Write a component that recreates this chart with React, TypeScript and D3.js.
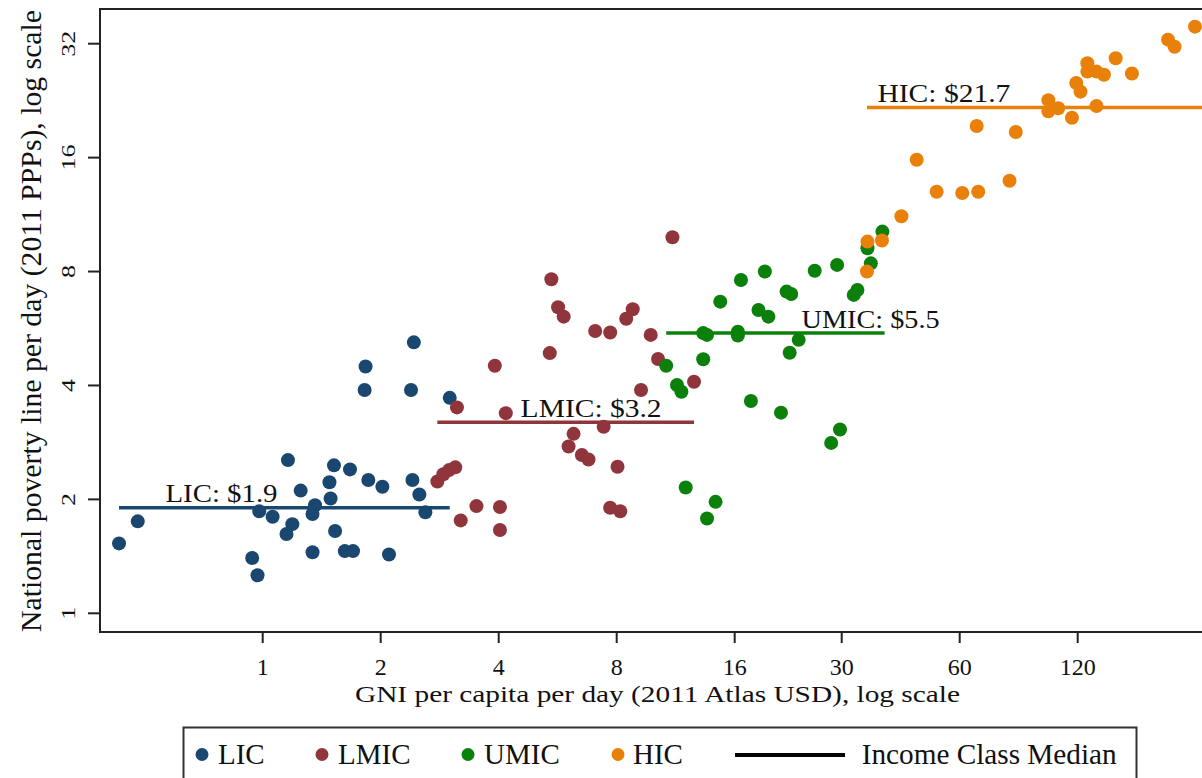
import React from "react";
import * as d3 from "d3";

// ---- data (GNI per capita per day, national poverty line per day) ----
const licPoints: [number, number][] = [
  [0.43, 1.53], [0.48, 1.75], [0.94, 1.40], [0.97, 1.26], [0.98, 1.86], [1.06, 1.80],
  [1.16, 2.54], [1.15, 1.62], [1.19, 1.72], [1.25, 2.11], [1.34, 1.45], [1.34, 1.83],
  [1.36, 1.93], [1.52, 2.46], [1.48, 2.22], [1.49, 2.01], [1.53, 1.65], [1.62, 1.46],
  [1.70, 1.46], [1.67, 2.40], [1.86, 2.25], [2.02, 2.16], [2.10, 1.43], [2.41, 2.25],
  [2.51, 2.06], [2.60, 1.85], [1.83, 4.49], [1.82, 3.89], [2.43, 5.20], [2.39, 3.89],
  [3.00, 3.71],
];
const lmicPoints: [number, number][] = [
  [11.1, 9.86], [5.45, 7.63], [5.67, 6.44], [5.86, 6.08], [8.79, 6.36], [8.46, 6.0],
  [7.05, 5.57], [7.70, 5.52], [9.77, 5.44], [5.40, 4.87], [10.2, 4.70], [3.91, 4.51],
  [12.6, 4.09], [9.23, 3.89], [3.13, 3.50], [4.17, 3.38], [7.41, 3.11], [6.21, 2.98],
  [6.03, 2.76], [6.52, 2.62], [6.78, 2.55], [8.04, 2.44], [2.79, 2.23], [2.89, 2.33],
  [2.99, 2.39], [3.10, 2.43], [3.51, 1.92], [4.03, 1.91], [3.20, 1.76], [4.03, 1.66],
  [7.70, 1.90], [8.17, 1.86],
];
const umicPoints: [number, number][] = [
  [38.1, 10.2], [34.9, 9.22], [35.6, 8.41], [32.9, 7.15], [32.2, 6.94], [29.2, 8.33],
  [25.6, 8.04], [19.1, 8.0], [16.6, 7.60], [14.7, 6.66], [21.7, 7.08], [22.3, 6.98],
  [18.4, 6.33], [19.5, 6.08], [13.3, 5.50], [13.6, 5.44], [16.3, 5.55], [16.3, 5.42],
  [23.3, 5.28], [22.1, 4.88], [10.7, 4.51], [13.3, 4.69], [11.4, 4.01], [11.7, 3.85],
  [17.6, 3.64], [21.0, 3.39], [29.7, 3.06], [28.2, 2.82], [12.0, 2.15], [14.3, 1.97],
  [13.6, 1.78],
];
const hicPoints: [number, number][] = [
  [34.9, 9.60], [38.0, 9.66], [34.8, 8.0], [42.6, 11.2], [46.6, 15.8], [52.4, 13.0],
  [60.9, 12.9], [66.9, 13.0], [80.4, 13.9], [66.3, 19.4], [83.4, 18.7], [101, 22.7],
  [101, 21.2], [107, 21.6], [116, 20.4], [134, 21.9], [119, 25.2], [122, 23.9],
  [127, 28.4], [127, 27.0], [134, 27.0], [140, 26.5], [150, 29.3], [165, 26.7],
  [204, 32.8], [212, 31.4], [239, 35.5],
];

const groupNames = ["LIC", "LMIC", "UMIC", "HIC"];
const groupColors = ["#1a476f", "#90353b", "#0b800b", "#e8800a"];
const groupPoints = [licPoints, lmicPoints, umicPoints, hicPoints];

const medianValues = [1.9, 3.2, 5.5, 21.7];
const medianStart = [0.43, 2.79, 10.7, 34.8];
const medianEnd = [3.0, 12.6, 38.6, 260];
const medianLabelAt = [0.565, 4.55, 23.7, 37.0];
const medianLabelWidth = [112, 141, 138, 133];

const xTicks = [1, 2, 4, 8, 16, 30, 60, 120];
const yTicks = [1, 2, 4, 8, 16, 32];

const xTitle = "GNI per capita per day (2011 Atlas USD), log scale";
const yTitle = "National poverty line per day (2011 PPPs), log scale";
const legendMedianLabel = "Income Class Median";

const FONT = "'Liberation Serif', 'Times New Roman', serif";

export default function App() {
  const W = 1202;
  const H = 778;
  const left = 100;
  const top = 9;
  const bottom = 632;
  const right = 1230;

  const x = d3.scaleLog().base(2).domain([1, 120]).range([262.7, 1077.7]);
  const y = d3.scaleLog().base(2).domain([1, 32]).range([613.3, 43.7]);

  const legendMarkerX = [202, 322, 468, 618];
  const legendTextX = [218, 338, 484, 633];

  return (
    <svg
      width={W}
      height={H}
      style={{ position: "absolute", left: 0, top: 0, background: "#fff" }}
      fontFamily={FONT}
    >
      <rect x={0} y={0} width={W} height={H} fill="#fff" />
      <defs>
        <clipPath id="plotclip">
          <rect x={left} y={top} width={right - left} height={bottom - top} />
        </clipPath>
      </defs>

      {/* plot frame */}
      <rect x={left} y={top} width={right - left} height={bottom - top} fill="none" stroke="#222" strokeWidth={2} />

      {/* y axis ticks + labels */}
      {yTicks.map((t) => (
        <g key={"y" + t}>
          <line x1={88} x2={left} y1={y(t)} y2={y(t)} stroke="#222" strokeWidth={2} />
          <text
            transform={`translate(74.5,${y(t)}) rotate(-90)`}
            textAnchor="middle"
            fontSize={18}
            textLength={String(t).length * 13}
            lengthAdjust="spacingAndGlyphs"
            fill="#111"
          >
            {t}
          </text>
        </g>
      ))}

      {/* x axis ticks + labels */}
      {xTicks.map((t) => (
        <g key={"x" + t}>
          <line x1={x(t)} x2={x(t)} y1={bottom} y2={643} stroke="#222" strokeWidth={2} />
          <text x={x(t)} y={675} textAnchor="middle" fontSize={24} fill="#111">
            {t}
          </text>
        </g>
      ))}

      {/* axis titles */}
      <text x={355} y={702} fontSize={24} textLength={605} lengthAdjust="spacingAndGlyphs" fill="#111">
        {xTitle}
      </text>
      <text
        transform={`translate(41,321) rotate(-90)`}
        textAnchor="middle"
        fontSize={29}
        textLength={622}
        lengthAdjust="spacingAndGlyphs"
        fill="#111"
      >
        {yTitle}
      </text>

      <g clipPath="url(#plotclip)">
        {/* points */}
        {groupPoints.map((pts, gi) =>
          pts.map((p, i) => (
            <circle key={gi + "-" + i} cx={x(p[0])} cy={y(p[1])} r={7} fill={groupColors[gi]} />
          ))
        )}
        {/* median lines */}
        {medianValues.map((m, i) => (
          <g key={"m" + i}>
            <line
              x1={x(medianStart[i])}
              x2={x(medianEnd[i])}
              y1={y(m)}
              y2={y(m)}
              stroke={groupColors[i]}
              strokeWidth={3.5}
            />
            <text
              x={x(medianLabelAt[i])}
              y={y(m) - 5.5}
              fontSize={25}
              textLength={medianLabelWidth[i]}
              lengthAdjust="spacingAndGlyphs"
              fill="#111"
            >
              {`${groupNames[i]}: $${m}`}
            </text>
          </g>
        ))}
      </g>

      {/* legend */}
      <rect x={183.5} y={727.5} width={953} height={80} fill="#fff" stroke="#333" strokeWidth={2} />
      {groupNames.map((n, i) => (
        <g key={"lg" + n}>
          <circle cx={legendMarkerX[i]} cy={754.5} r={6.5} fill={groupColors[i]} />
          <text x={legendTextX[i]} y={764} fontSize={29} fill="#111">
            {n}
          </text>
        </g>
      ))}
      <line x1={735} x2={845} y1={755} y2={755} stroke="#000" strokeWidth={4} />
      <text x={861.7} y={764} fontSize={29} textLength={255} lengthAdjust="spacingAndGlyphs" fill="#111">
        {legendMedianLabel}
      </text>
    </svg>
  );
}
